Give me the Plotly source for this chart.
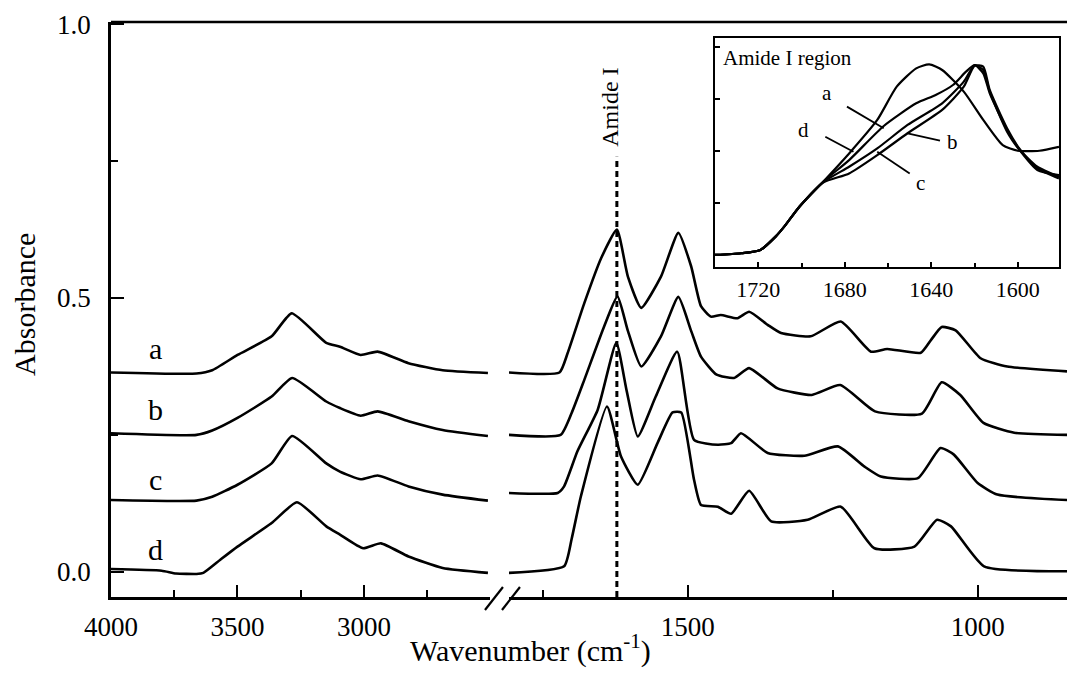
import plotly.graph_objects as go

# ---------------- data ----------------
# High-wavenumber region, cm-1 (left panel)
WN_HI_A = [4000, 3662, 3600, 3500, 3365, 3286, 3149, 3095, 3013, 2946, 2824, 2689, 2510]
ABS_HI_A = [0.364, 0.362, 0.368, 0.396, 0.430, 0.472, 0.418, 0.411, 0.396, 0.402, 0.381, 0.368, 0.363]

WN_HI_B = [4000, 3662, 3600, 3500, 3365, 3284, 3149, 3095, 3013, 2946, 2824, 2689, 2510]
ABS_HI_B = [0.253, 0.250, 0.258, 0.281, 0.320, 0.354, 0.311, 0.299, 0.285, 0.293, 0.275, 0.259, 0.248]

WN_HI_C = [4000, 3662, 3600, 3500, 3365, 3284, 3149, 3095, 3013, 2946, 2824, 2689, 2510]
ABS_HI_C = [0.131, 0.130, 0.137, 0.159, 0.198, 0.248, 0.198, 0.183, 0.169, 0.176, 0.156, 0.141, 0.130]

WN_HI_D = [4000, 3800, 3743, 3662, 3635, 3568, 3500, 3365, 3265, 3149, 3095, 3003, 2933, 2824, 2689, 2510]
ABS_HI_D = [0.005, 0.002, -0.003, -0.004, -0.002, 0.022, 0.046, 0.089, 0.127, 0.083, 0.068, 0.043, 0.052, 0.028, 0.007, -0.002]

# Fingerprint region, cm-1 (right panel)
WN_LO_A = [1808, 1721, 1707, 1678, 1649, 1622, 1603, 1580, 1546, 1516, 1494, 1477, 1460, 1443,
           1414, 1394, 1362, 1339, 1288, 1236, 1184, 1156, 1098, 1080, 1062, 1038, 995, 949, 846]
ABS_LO_A = [0.364, 0.364, 0.399, 0.491, 0.573, 0.625, 0.539, 0.482, 0.539, 0.619, 0.558, 0.485, 0.466, 0.469,
            0.463, 0.475, 0.451, 0.436, 0.430, 0.457, 0.402, 0.407, 0.400, 0.424, 0.447, 0.441, 0.390, 0.375, 0.366]

WN_LO_B = [1808, 1719, 1700, 1678, 1644, 1621, 1603, 1580, 1546, 1516, 1494, 1477, 1450, 1420, 1394,
           1345, 1286, 1237, 1177, 1096, 1062, 1030, 990, 937, 846]
ABS_LO_B = [0.250, 0.250, 0.290, 0.351, 0.448, 0.503, 0.440, 0.375, 0.430, 0.502, 0.440, 0.393, 0.360, 0.354, 0.372,
            0.335, 0.323, 0.341, 0.293, 0.289, 0.346, 0.323, 0.272, 0.254, 0.250]

WN_LO_C = [1808, 1724, 1713, 1690, 1655, 1623, 1605, 1586, 1555, 1518, 1489, 1448, 1425, 1408, 1362,
           1299, 1241, 1195, 1167, 1103, 1064, 1041, 1000, 966, 846]
ABS_LO_C = [0.144, 0.144, 0.156, 0.220, 0.296, 0.418, 0.330, 0.247, 0.320, 0.402, 0.241, 0.232, 0.235, 0.253, 0.217,
            0.212, 0.229, 0.192, 0.174, 0.171, 0.226, 0.214, 0.162, 0.141, 0.131]

WN_LO_D = [1808, 1713, 1700, 1684, 1639, 1615, 1586, 1552, 1526, 1511, 1489, 1477, 1448, 1425, 1394,
           1356, 1293, 1236, 1178, 1109, 1070, 1046, 989, 846]
ABS_LO_D = [-0.002, 0.010, 0.060, 0.138, 0.302, 0.211, 0.159, 0.235, 0.291, 0.291, 0.168, 0.122, 0.119, 0.106, 0.148,
            0.092, 0.095, 0.119, 0.043, 0.046, 0.095, 0.083, 0.010, 0.001]

# Inset: Amide I region (arbitrary absorbance scale)
WN_IN_A = [1740, 1728, 1719, 1712, 1708, 1701, 1690, 1678, 1662, 1647, 1638, 1630, 1624, 1620, 1616, 1613, 1605, 1599, 1591, 1581]
ABS_IN_A = [-0.248, -0.240, -0.224, -0.160, -0.112, -0.016, 0.104, 0.208, 0.372, 0.481, 0.521, 0.569, 0.633, 0.665, 0.625, 0.529, 0.353, 0.256, 0.176, 0.128]

WN_IN_B = [1740, 1728, 1719, 1712, 1708, 1701, 1690, 1678, 1665, 1651, 1635, 1625, 1620, 1616, 1613, 1605, 1599, 1591, 1581]
ABS_IN_B = [-0.248, -0.240, -0.224, -0.160, -0.112, -0.016, 0.100, 0.144, 0.232, 0.337, 0.449, 0.561, 0.662, 0.657, 0.545, 0.361, 0.259, 0.168, 0.120]

WN_IN_C = [1740, 1728, 1719, 1712, 1708, 1701, 1690, 1678, 1665, 1651, 1635, 1625, 1620, 1616, 1613, 1605, 1599, 1591, 1581]
ABS_IN_C = [-0.248, -0.240, -0.224, -0.160, -0.112, -0.016, 0.102, 0.176, 0.264, 0.377, 0.481, 0.585, 0.664, 0.641, 0.537, 0.345, 0.253, 0.160, 0.136]

WN_IN_D = [1740, 1728, 1719, 1712, 1708, 1701, 1690, 1678, 1665, 1656, 1647, 1641, 1635, 1625, 1616, 1607, 1600, 1590, 1581]
ABS_IN_D = [-0.248, -0.240, -0.224, -0.160, -0.112, -0.016, 0.104, 0.240, 0.401, 0.561, 0.649, 0.668, 0.641, 0.537, 0.401, 0.280, 0.253, 0.253, 0.272]

SAMPLE_LABELS = ["a", "b", "c", "d"]
LABEL_WN = 3826
LABEL_ABS = [0.408, 0.296, 0.168, 0.040]

AMIDE_I_WN = 1622
AMIDE_I_TOP = 0.758

X_HI_TICKS = [4000, 3500, 3000]
X_HI_MINOR = [3750, 3250, 2750]
X_LO_TICKS = [1500, 1000]
X_LO_MINOR = [1750, 1250]
Y_TICKS = [0.0, 0.5, 1.0]
Y_TICK_TEXT = ["0.0", "0.5", "1.0"]
Y_MINOR = [0.25, 0.75]
IN_X_TICKS = [1720, 1680, 1640, 1600]
IN_X_MINOR = [1700, 1660, 1620]
IN_Y_TICKS = [0.0, 0.25, 0.5, 0.75]

# inset label positions (wavenumber, value) and pointer segments
IN_LABELS = [("a", 1688, 0.529), ("d", 1699, 0.353), ("b", 1630, 0.296), ("c", 1645, 0.096)]
IN_POINTERS = [((1679, 0.465), (1662, 0.361)),
               ((1689, 0.320), (1676, 0.248)),
               ((1636, 0.301), (1651, 0.337)),
               ((1650, 0.144), (1665, 0.248))]

# ---------------- figure ----------------
FONT = "Liberation Serif"
BLACK = "black"
LW = 2.6

fig = go.Figure()

hi_sets = [(WN_HI_A, ABS_HI_A), (WN_HI_B, ABS_HI_B), (WN_HI_C, ABS_HI_C), (WN_HI_D, ABS_HI_D)]
lo_sets = [(WN_LO_A, ABS_LO_A), (WN_LO_B, ABS_LO_B), (WN_LO_C, ABS_LO_C), (WN_LO_D, ABS_LO_D)]
in_sets = [(WN_IN_A, ABS_IN_A), (WN_IN_B, ABS_IN_B), (WN_IN_C, ABS_IN_C), (WN_IN_D, ABS_IN_D)]

for (wx, wy) in hi_sets:
    fig.add_trace(go.Scatter(x=wx, y=wy, mode="lines", xaxis="x", yaxis="y",
                             line=dict(color=BLACK, width=LW, shape="spline", smoothing=0.5),
                             hoverinfo="skip"))
for (wx, wy) in lo_sets:
    fig.add_trace(go.Scatter(x=wx, y=wy, mode="lines", xaxis="x2", yaxis="y",
                             line=dict(color=BLACK, width=LW, shape="spline", smoothing=0.5),
                             hoverinfo="skip"))
for (wx, wy) in in_sets:
    fig.add_trace(go.Scatter(x=wx, y=wy, mode="lines", xaxis="x3", yaxis="y3",
                             line=dict(color=BLACK, width=2.2, shape="spline", smoothing=0.6),
                             hoverinfo="skip"))

# Amide I dashed marker line
fig.add_trace(go.Scatter(x=[AMIDE_I_WN, AMIDE_I_WN], y=[-0.046, AMIDE_I_TOP], mode="lines",
                         xaxis="x2", yaxis="y",
                         line=dict(color=BLACK, width=3, dash="6px,4px"), hoverinfo="skip"))

axis_common = dict(showline=True, linecolor=BLACK, linewidth=LW, ticks="inside", tickcolor=BLACK,
                   tickwidth=2, showgrid=False, zeroline=False,
                   tickfont=dict(family=FONT, size=27, color=BLACK))

fig.update_layout(
    width=1067, height=679,
    margin=dict(l=111, r=0, t=22, b=82),
    paper_bgcolor="white", plot_bgcolor="white",
    showlegend=False,
    font=dict(family=FONT, color=BLACK),
    xaxis=dict(domain=[0, 0.3964], range=[4000, 2502], anchor="y",
               tickvals=X_HI_TICKS, ticklen=12, ticklabelstandoff=4,
               minor=dict(tickvals=X_HI_MINOR, ticks="inside", ticklen=7, tickwidth=2, tickcolor=BLACK),
               **axis_common),
    xaxis2=dict(domain=[0.4163, 1], range=[1808, 846], anchor="y",
                tickvals=X_LO_TICKS, ticklen=12, ticklabelstandoff=4,
                minor=dict(tickvals=X_LO_MINOR, ticks="inside", ticklen=7, tickwidth=2, tickcolor=BLACK),
                **axis_common),
    yaxis=dict(domain=[0, 1], range=[-0.046, 1.004], anchor="x",
               tickvals=Y_TICKS, ticktext=Y_TICK_TEXT, ticklen=13, ticklabelstandoff=12,
               minor=dict(tickvals=Y_MINOR, ticks="inside", ticklen=7, tickwidth=2, tickcolor=BLACK),
               **axis_common),
    xaxis3=dict(domain=[0.6318, 0.9916], range=[1740, 1581], anchor="y3",
                showline=True, mirror=True, linecolor=BLACK, linewidth=2,
                ticks="inside", ticklen=5, tickwidth=1.5, tickcolor=BLACK,
                tickvals=IN_X_TICKS, ticklabelstandoff=2,
                minor=dict(tickvals=IN_X_MINOR, ticks="inside", ticklen=4, tickwidth=1.5, tickcolor=BLACK),
                showgrid=False, zeroline=False,
                tickfont=dict(family=FONT, size=22, color=BLACK)),
    yaxis3=dict(domain=[0.5739, 0.9722], range=[-0.306, 0.795], anchor="x3",
                showline=True, mirror=True, linecolor=BLACK, linewidth=2,
                ticks="inside", ticklen=5, tickwidth=1.5, tickcolor=BLACK,
                tickvals=IN_Y_TICKS, showticklabels=False,
                showgrid=False, zeroline=False),
)

shapes = [
    # top frame line
    dict(type="line", xref="paper", yref="paper", x0=0, x1=1, y0=1, y1=1,
         line=dict(color=BLACK, width=LW)),
    # axis break marks
    dict(type="line", xref="paper", yref="paper", x0=0.3912, y0=-0.0226, x1=0.4100, y1=0.0174,
         line=dict(color=BLACK, width=2.2)),
    dict(type="line", xref="paper", yref="paper", x0=0.4090, y0=-0.0226, x1=0.4278, y1=0.0174,
         line=dict(color=BLACK, width=2.2)),
]
for (p0, p1) in IN_POINTERS:
    shapes.append(dict(type="line", xref="x3", yref="y3", x0=p0[0], y0=p0[1], x1=p1[0], y1=p1[1],
                       line=dict(color=BLACK, width=1.8)))
fig.update_layout(shapes=shapes)

annotations = [
    dict(text="Absorbance", xref="paper", yref="paper", x=-0.090, y=0.5096, showarrow=False,
         textangle=-90, font=dict(family=FONT, size=30, color=BLACK), xanchor="center", yanchor="middle"),
    dict(text="Wavenumber (cm<sup>-1</sup>)", xref="paper", yref="paper", x=0.4393, y=-0.0887,
         showarrow=False, font=dict(family=FONT, size=30, color=BLACK), xanchor="center", yanchor="middle"),
    dict(text="Amide I", xref="x2", yref="y", x=1634, y=0.849, showarrow=False, textangle=-90,
         font=dict(family=FONT, size=24, color=BLACK), xanchor="center", yanchor="middle"),
    dict(text="Amide I region", xref="x3", yref="y3", x=1737, y=0.699, showarrow=False,
         font=dict(family=FONT, size=21, color=BLACK), xanchor="left", yanchor="middle"),
]
for lab, yv in zip(SAMPLE_LABELS, LABEL_ABS):
    annotations.append(dict(text=lab, xref="x", yref="y", x=LABEL_WN, y=yv, showarrow=False,
                            font=dict(family=FONT, size=30, color=BLACK),
                            xanchor="center", yanchor="middle"))
for lab, xv, yv in IN_LABELS:
    annotations.append(dict(text=lab, xref="x3", yref="y3", x=xv, y=yv, showarrow=False,
                            font=dict(family=FONT, size=21, color=BLACK),
                            xanchor="center", yanchor="middle"))
fig.update_layout(annotations=annotations)

fig.write_html("out.html", config={"displayModeBar": False},
               post_script="document.body.style.margin='0px';document.body.style.overflow='hidden';")
